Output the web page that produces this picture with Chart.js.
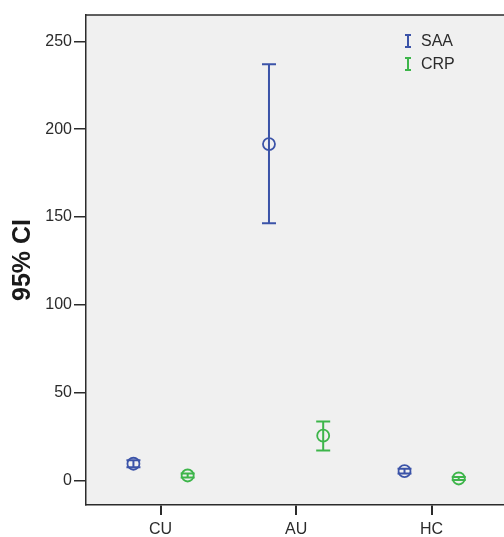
<!DOCTYPE html>
<html>
<head>
<meta charset="utf-8">
<script src="https://cdn.jsdelivr.net/npm/chart.js@4.4.1/dist/chart.umd.min.js"></script>
<style>
  html, body { margin: 0; padding: 0; background: #fff; overflow: hidden; }
  #wrap { width: 504px; height: 537px; position: relative; }
</style>
</head>
<body>
<div id="wrap"><canvas id="ciChart"></canvas></div>
<script>
// === Data ===
const categories = ['CU', 'AU', 'HC'];
const yTicks = [0, 50, 100, 150, 200, 250];

const saaMean = [9.5, 191.5, 5.3];
const saaLow  = [7.5, 146.4, 4.0];
const saaHigh = [11.5, 237.0, 6.6];

const crpMean = [2.8, 25.5, 1.1];
const crpLow  = [1.6, 17.1, 0.2];
const crpHigh = [4.0, 33.5, 2.0];

const seriesNames = ['SAA', 'CRP'];
const seriesColors = ['#3b53a8', '#3db54a'];
const offsets = [-0.2, 0.2];

const inkColor = '#2b2b2b';
const fontFamily = '"Liberation Sans", Arial, sans-serif';

function toPoints(means, k) {
    return means.map(function (v, i) { return { x: i + 1 + offsets[k], y: v }; });
}

// === Error bars + plot frame ===
const ciPlugin = {
    id: 'ciBars',
    beforeDraw: function (chart) {
        const a = chart.chartArea;
        const c = chart.ctx;
        c.save();
        c.fillStyle = '#f0f0f0';
        c.fillRect(a.left, a.top, a.right - a.left + 2, a.bottom - a.top);
        c.restore();
    },
    afterDatasetsDraw: function (chart) {
        const c = chart.ctx;
        const a = chart.chartArea;
        const yScale = chart.scales.y;
        const lows = [saaLow, crpLow];
        const highs = [saaHigh, crpHigh];
        c.save();
        chart.data.datasets.forEach(function (ds, k) {
            const meta = chart.getDatasetMeta(k);
            c.strokeStyle = seriesColors[k];
            c.lineWidth = 2;
            meta.data.forEach(function (pt, i) {
                const x = pt.x;
                const y1 = yScale.getPixelForValue(lows[k][i]);
                const y2 = yScale.getPixelForValue(highs[k][i]);
                c.beginPath();
                c.moveTo(x, y1); c.lineTo(x, y2);
                c.moveTo(x - 7, y1); c.lineTo(x + 7, y1);
                c.moveTo(x - 7, y2); c.lineTo(x + 7, y2);
                c.stroke();
            });
        });
        // top frame line
        c.strokeStyle = inkColor;
        c.lineWidth = 1.5;
        c.beginPath();
        c.moveTo(a.left, a.top);
        c.lineTo(a.right + 2, a.top);
        c.stroke();

        // legend inside plot, top right
        c.font = '16px ' + fontFamily;
        c.textBaseline = 'middle';
        seriesNames.forEach(function (name, k) {
            const ly = 41 + k * 23;
            const lx = 408;
            c.strokeStyle = seriesColors[k];
            c.lineWidth = 2;
            c.beginPath();
            c.moveTo(lx, ly - 6); c.lineTo(lx, ly + 6);
            c.moveTo(lx - 3, ly - 6); c.lineTo(lx + 3, ly - 6);
            c.moveTo(lx - 3, ly + 6); c.lineTo(lx + 3, ly + 6);
            c.stroke();
            c.fillStyle = inkColor;
            c.fillText(name, 421, ly + 1);
        });
        c.restore();
    }
};

const ctx = document.getElementById('ciChart').getContext('2d');
const ciChart = new Chart(ctx, {
    type: 'scatter',
    data: {
        datasets: seriesNames.map(function (name, k) {
            return {
                label: name,
                data: toPoints(k === 0 ? saaMean : crpMean, k),
                borderColor: seriesColors[k],
                backgroundColor: 'rgba(0,0,0,0)',
                borderWidth: 1.8,
                pointRadius: 6,
                pointHoverRadius: 6
            };
        })
    },
    plugins: [ciPlugin],
    options: {
        responsive: true,
        maintainAspectRatio: false,
        animation: false,
        layout: { autoPadding: false, padding: { top: 15, right: 0, left: 0, bottom: 0 } },
        plugins: {
            legend: { display: false },
            tooltip: { enabled: false }
        },
        scales: {
            x: {
                type: 'linear',
                min: 0.45,
                max: 3.534,
                afterBuildTicks: function (scale) {
                    scale.ticks = categories.map(function (c, i) { return { value: i + 1 }; });
                },
                afterFit: function (scale) { scale.height = 32; },
                ticks: {
                    color: inkColor,
                    font: { family: fontFamily, size: 16 },
                    padding: 5,
                    callback: function (v) { return categories[v - 1]; }
                },
                grid: {
                    drawOnChartArea: false,
                    color: inkColor,
                    lineWidth: 2,
                    tickLength: 10
                },
                border: { display: true, color: inkColor, width: 1.5 }
            },
            y: {
                min: -14,
                max: 265,
                afterBuildTicks: function (scale) {
                    scale.ticks = yTicks.map(function (v) { return { value: v }; });
                },
                afterFit: function (scale) { scale.width = 86; },
                ticks: {
                    color: inkColor,
                    font: { family: fontFamily, size: 16 },
                    padding: 2
                },
                grid: {
                    drawOnChartArea: false,
                    color: inkColor,
                    lineWidth: 1.5,
                    tickLength: 12
                },
                border: { display: true, color: inkColor, width: 1.5 },
                title: {
                    display: true,
                    text: '95% CI',
                    color: '#1a1a1a',
                    font: { family: fontFamily, size: 25, weight: 'bold' },
                    padding: { top: 8, bottom: 0 }
                }
            }
        }
    }
});
</script>
</body>
</html>
